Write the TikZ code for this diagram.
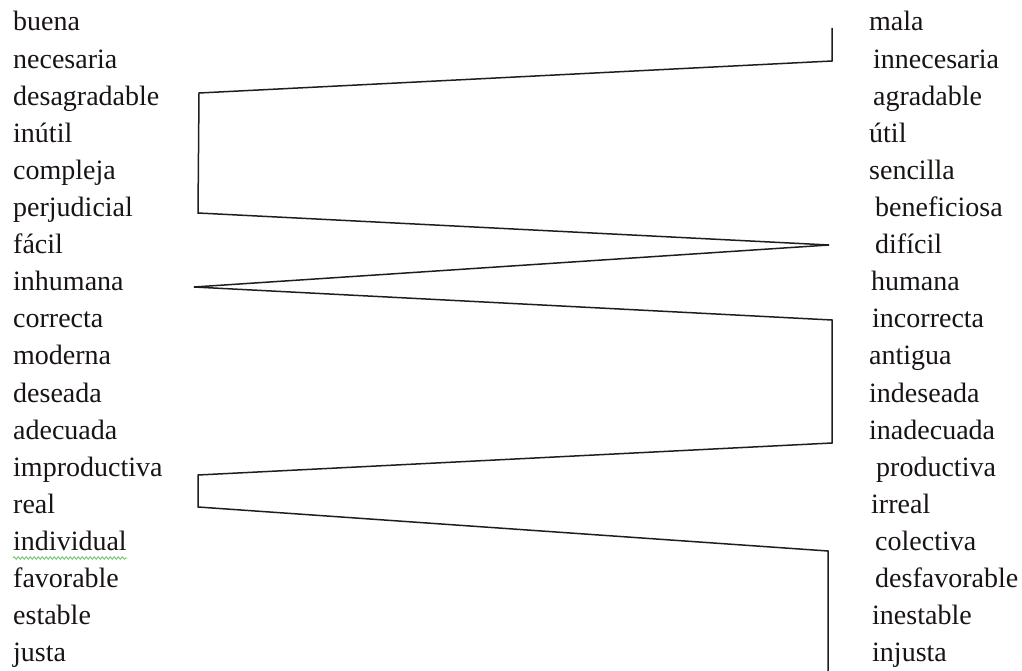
\documentclass[tikz,border=0pt]{standalone}
\usepackage{fontspec}
\setmainfont{Liberation Serif}
\usetikzlibrary{decorations.pathmorphing}
\definecolor{inkc}{RGB}{25,20,20}
\definecolor{linec}{RGB}{30,30,30}
\definecolor{spellc}{RGB}{120,200,120}
\begin{document}
\begin{tikzpicture}[x=1pt,y=-1pt,
  word/.style={anchor=base west, inner sep=0pt, text=inkc, font=\fontsize{28}{30}\selectfont},
  prof/.style={line width=1.5pt, draw=linec, line join=miter},
  spell/.style={draw=spellc, line width=1pt, decorate, decoration={snake, amplitude=1.2pt, segment length=4pt}}]
\useasboundingbox (0,0) rectangle (1022,671);
% left column
\foreach \w [count=\i from 0] in {buena,necesaria,desagradable,inútil,compleja,perjudicial,fácil,inhumana,correcta,moderna,deseada,adecuada,improductiva,real,individual,favorable,estable,justa}
  \node[word] (L\i) at (13,{31+37.1*\i}) {\w};
% right column
\foreach \w/\dx [count=\i from 0] in {mala/0,innecesaria/4,agradable/4,útil/0,sencilla/0,beneficiosa/6,difícil/6,humana/2,incorrecta/3,antigua/0,indeseada/0,inadecuada/0,productiva/7,irreal/2,colectiva/6,desfavorable/6,inestable/3,injusta/3}
  \node[word] (R\i) at ({869+\dx},{31+37.1*\i}) {\w};
% spell-check underline
\coordinate (u1) at (13,558);
\coordinate (u2) at (127,558);
\draw[spell] (u1) -- (u2);
% profile line
\coordinate (p0) at (832,28);
\coordinate (p1) at (832,61);
\coordinate (p2) at (199,93);
\coordinate (p3) at (198,213);
\coordinate (p4) at (829,245);
\coordinate (p5) at (194,287);
\coordinate (p6) at (832,320);
\coordinate (p7) at (832,443);
\coordinate (p8) at (198,475);
\coordinate (p9) at (198,507);
\coordinate (p10) at (828,551);
\coordinate (p11) at (828,671);
\draw[prof] (p0) -- (p1) -- (p2) -- (p3) -- (p4) -- (p5) -- (p6) -- (p7) -- (p8) -- (p9) -- (p10) -- (p11);
\end{tikzpicture}
\end{document}
